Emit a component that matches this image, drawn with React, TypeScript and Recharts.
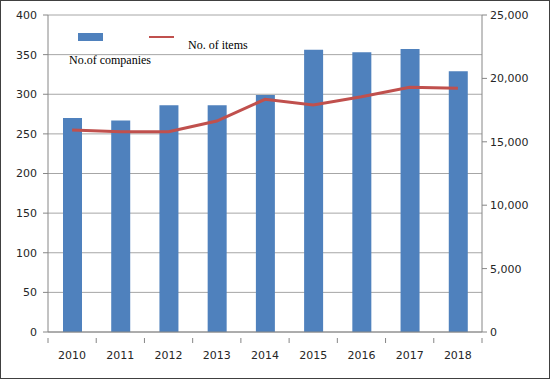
import { ComposedChart, Bar, Line, XAxis, YAxis, CartesianGrid } from "recharts";

const YEARS = ["2010", "2011", "2012", "2013", "2014", "2015", "2016", "2017", "2018"];
const COMPANIES = [270, 267, 286, 286, 299, 356, 353, 357, 329];
const ITEMS = [15930, 15800, 15800, 16640, 18350, 17900, 18550, 19300, 19220];
const LEFT_TICKS = [0, 50, 100, 150, 200, 250, 300, 350, 400];
const RIGHT_TICKS = [0, 5000, 10000, 15000, 20000, 25000];

const BAR_COLOR = "#4F81BD";
const LINE_COLOR = "#C0504D";
const AXIS_COLOR = "#868686";
const TICK_STYLE = { fontSize: 11, fill: "#262626", fontFamily: "'DejaVu Sans', sans-serif" };

const data = YEARS.map((year, i) => ({ year, companies: COMPANIES[i], items: ITEMS[i] }));

const fmt = (v: number) => v.toLocaleString("en-US");

function YearTick(props: any) {
  const { x, y, payload, index } = props;
  const half = 434 / YEARS.length / 2;
  return (
    <g>
      <line x1={x - half} x2={x - half} y1={y - 2} y2={y + 3} stroke={AXIS_COLOR} />
      {index === YEARS.length - 1 && (
        <line x1={x + half} x2={x + half} y1={y - 2} y2={y + 3} stroke={AXIS_COLOR} />
      )}
      <text x={x} y={y + 19} textAnchor="middle" {...TICK_STYLE}>
        {payload.value}
      </text>
    </g>
  );
}

export default function App() {
  return (
    <div
      style={{
        position: "absolute",
        left: 0,
        top: 0,
        width: 548,
        height: 377,
        border: "1px solid #404040",
        background: "#fff",
      }}
    >
      <ComposedChart
        width={548}
        height={377}
        data={data}
        margin={{ top: 14, right: 0, bottom: 0, left: 0 }}
        barCategoryGap={0}
      >
        <CartesianGrid vertical={false} stroke="#A6A6A6" yAxisId="left" />
        <XAxis
          dataKey="year"
          height={46}
          axisLine={{ stroke: AXIS_COLOR }}
          tickLine={false}
          tick={<YearTick />}
          interval={0}
        />
        <YAxis
          yAxisId="left"
          width={47}
          domain={[0, 400]}
          ticks={LEFT_TICKS}
          axisLine={{ stroke: AXIS_COLOR }}
          tickLine={{ stroke: AXIS_COLOR }}
          tickSize={5}
          tickMargin={6}
          tick={TICK_STYLE}
        />
        <YAxis
          yAxisId="right"
          orientation="right"
          width={67}
          domain={[0, 25000]}
          ticks={RIGHT_TICKS}
          tickFormatter={fmt}
          axisLine={{ stroke: AXIS_COLOR }}
          tickLine={{ stroke: AXIS_COLOR }}
          tickSize={5}
          tickMargin={3}
          tick={TICK_STYLE}
        />
        <Bar yAxisId="left" dataKey="companies" fill={BAR_COLOR} barSize={19} isAnimationActive={false} />
        <Line
          yAxisId="right"
          dataKey="items"
          type="linear"
          stroke={LINE_COLOR}
          strokeWidth={3}
          dot={false}
          isAnimationActive={false}
        />
      </ComposedChart>
      <div style={{ position: "absolute", left: 77, top: 32, width: 25, height: 8, background: BAR_COLOR }} />
      <div style={{ position: "absolute", left: 148, top: 35, width: 25, height: 2, background: LINE_COLOR }} />
      <div
        style={{
          position: "absolute",
          left: 68,
          top: 52,
          fontFamily: "'Liberation Serif', serif",
          fontSize: 12,
          color: "#000",
          whiteSpace: "nowrap",
        }}
      >
        No.of companies
      </div>
      <div
        style={{
          position: "absolute",
          left: 187,
          top: 37,
          fontFamily: "'Liberation Serif', serif",
          fontSize: 12,
          color: "#000",
          whiteSpace: "nowrap",
        }}
      >
        No. of items
      </div>
    </div>
  );
}
